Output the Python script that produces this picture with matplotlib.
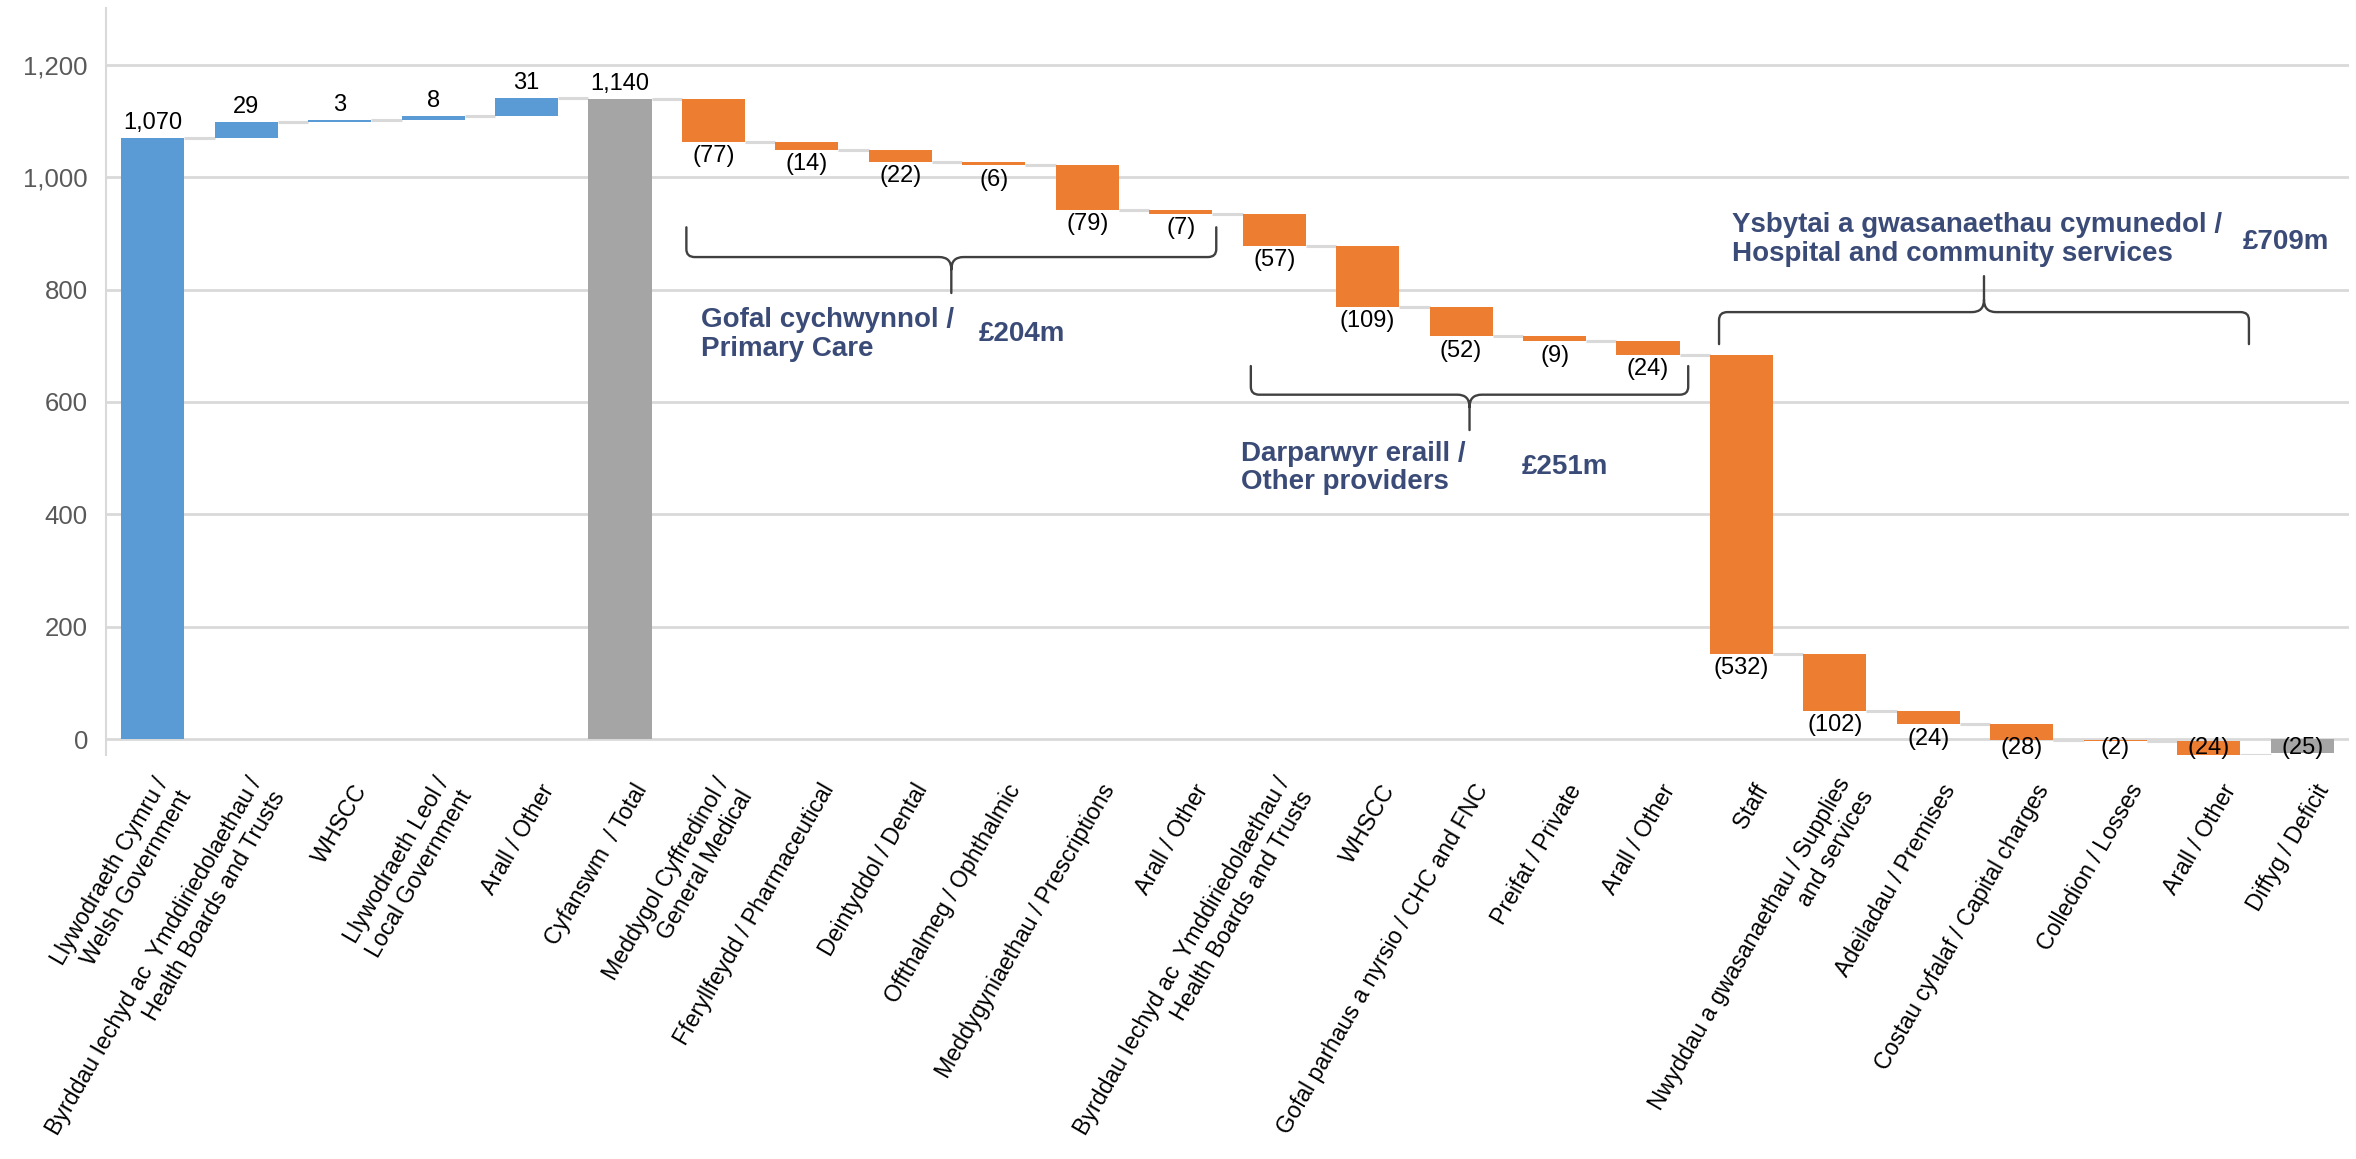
import numpy as np
import matplotlib
matplotlib.use("Agg")
import matplotlib.pyplot as plt
from matplotlib.path import Path
from matplotlib.patches import PathPatch
from matplotlib.transforms import ScaledTranslation

plt.rcParams['font.family'] = ['Liberation Sans', 'DejaVu Sans']

labels = [
    "Llywodraeth Cymru /\nWelsh Government",
    "Byrddau Iechyd ac  Ymddiriedolaethau /\nHealth Boards and Trusts",
    "WHSCC",
    "Llywodraeth Leol /\nLocal Government",
    "Arall / Other",
    "Cyfanswm  / Total",
    "Meddygol Cyffredinol /\nGeneral Medical",
    "Fferyllfeydd / Pharmaceutical",
    "Deintyddol / Dental",
    "Offthalmeg / Ophthalmic",
    "Meddygyniaethau / Prescriptions",
    "Arall / Other",
    "Byrddau Iechyd ac  Ymddiriedolaethau /\nHealth Boards and Trusts",
    "WHSCC",
    "Gofal parhaus a nyrsio / CHC and FNC",
    "Preifat / Private",
    "Arall / Other",
    "Staff",
    "Nwyddau a gwasanaethau / Supplies\nand services",
    "Adeiladau / Premises",
    "Costau cyfalaf / Capital charges",
    "Colledion / Losses",
    "Arall / Other",
    "Diffyg / Deficit",
]
values = [1070, 29, 3, 8, 31, 1140,
          -77, -14, -22, -6, -79, -7,
          -57, -109, -52, -9, -24,
          -532, -102, -24, -28, -2, -24,
          -25]
# "inc" = funding in, "total" = bar from zero, "dec" = spending out
kinds = ["inc"] * 5 + ["total"] + ["dec"] * 17 + ["total"]

group_names = ["Gofal cychwynnol /\nPrimary Care",
               "Darparwyr eraill /\nOther providers",
               "Ysbytai a gwasanaethau cymunedol /\nHospital and community services"]
group_amounts = ["£204m", "£251m", "£709m"]

BLUE = "#5B9BD5"
ORANGE = "#ED7D31"
GREY = "#A5A5A5"
GRID = "#D9D9D9"
NAVY = "#3B4B78"

fig = plt.figure(figsize=(23.56, 11.59), dpi=100)
ax = fig.add_axes([0.045, 0.3483, 0.952, 0.6451])
YMIN, YMAX = -29, 1302

x = np.arange(len(values))
w = 0.675
bottoms, tops = [], []
running = 0
for v, k in zip(values, kinds):
    if k == "total":
        b, t = min(0, v), max(0, v)
        running = v if v > 0 else running
    else:
        b, t = sorted([running, running + v])
        running += v
    bottoms.append(b)
    tops.append(t)
bottoms = np.array(bottoms)
tops = np.array(tops)

colors = [BLUE if k == "inc" else ORANGE if k == "dec" else GREY for k in kinds]
ax.bar(x, tops - bottoms, bottom=bottoms, width=w, color=colors, zorder=3)

# connector lines between the bars
levels = []
for i in range(len(values) - 1):
    if kinds[i] == "inc":
        levels.append(tops[i])
    elif kinds[i] == "dec":
        levels.append(bottoms[i])
    else:
        levels.append(tops[i] if values[i] > 0 else bottoms[i])
ax.hlines(levels, x[:-1] + w / 2, x[1:] - w / 2, color=GRID, lw=2.2, zorder=2)

# data labels (kept inside the plot area at the bottom, like Excel does)
for i, v in enumerate(values):
    if v > 0:
        ax.text(x[i], tops[i] + 7, f"{v:,}", ha="center", va="bottom", fontsize=17, zorder=4)
    else:
        y = max(bottoms[i] - 6, YMIN + 33)
        ax.text(x[i], y, f"({-v})", ha="center", va="top", fontsize=17, zorder=4)


def brace(ax, x0, x1, y_line, y_end, y_tip, r=(0.09, 14), rt=(0.13, 22)):
    s = np.sign(y_end - y_line)
    xm = (x0 + x1) / 2
    rx, ry = r
    tx, ty = rt
    verts = [(x0, y_end), (x0, y_line + s * ry), (x0, y_line), (x0 + rx, y_line),
             (xm - tx, y_line), (xm, y_line), (xm, y_line - s * ty), (xm, y_tip),
             (xm, y_line - s * ty), (xm, y_line), (xm + tx, y_line),
             (x1 - rx, y_line), (x1, y_line), (x1, y_line + s * ry), (x1, y_end)]
    codes = [Path.MOVETO, Path.LINETO, Path.CURVE3, Path.CURVE3,
             Path.LINETO, Path.CURVE3, Path.CURVE3, Path.LINETO,
             Path.MOVETO, Path.CURVE3, Path.CURVE3,
             Path.LINETO, Path.CURVE3, Path.CURVE3, Path.LINETO]
    ax.add_patch(PathPatch(Path(verts, codes), fill=False, ec="#404040", lw=1.7, zorder=5,
                           capstyle="round", joinstyle="round"))


brace(ax, 5.71, 11.38, 858, 911, 794)
brace(ax, 11.75, 16.43, 613, 664, 550)
brace(ax, 16.76, 22.43, 760, 703, 824)

text_pos = [(5.87, 720, 8.84, 721), (11.64, 482, 14.65, 484), (16.9, 889, 22.36, 885)]
for name, amount, (tx, ty, mx, my) in zip(group_names, group_amounts, text_pos):
    ax.text(tx, ty, name, ha="left", va="center", fontsize=20, fontweight="bold",
            color=NAVY, linespacing=1.12, zorder=6)
    ax.text(mx, my, amount, ha="left", va="center", fontsize=20, fontweight="bold",
            color=NAVY, zorder=6)

ax.set_xlim(-0.5, len(values) - 0.5)
ax.set_ylim(YMIN, YMAX)
ax.set_yticks(range(0, 1201, 200))
ax.set_yticklabels([f"{t:,}" for t in range(0, 1201, 200)])
ax.tick_params(axis="y", length=0, pad=13, labelsize=18.5, labelcolor="#595959")
ax.yaxis.grid(True, color=GRID, lw=2, zorder=0)
ax.set_axisbelow(True)

ax.set_xticks(x)
ax.set_xticklabels(labels, rotation=60, ha="right", va="center",
                   rotation_mode="anchor", multialignment="right", fontsize=16.7)
ax.tick_params(axis="x", length=0, pad=22)
offset = ScaledTranslation(22 / 100, 0, fig.dpi_scale_trans)
for lab in ax.get_xticklabels():
    lab.set_transform(lab.get_transform() + offset)

for side in ["top", "right", "bottom"]:
    ax.spines[side].set_visible(False)
ax.spines["left"].set_color(GRID)
ax.spines["left"].set_linewidth(1.5)

fig.savefig("out.png", dpi=100)
